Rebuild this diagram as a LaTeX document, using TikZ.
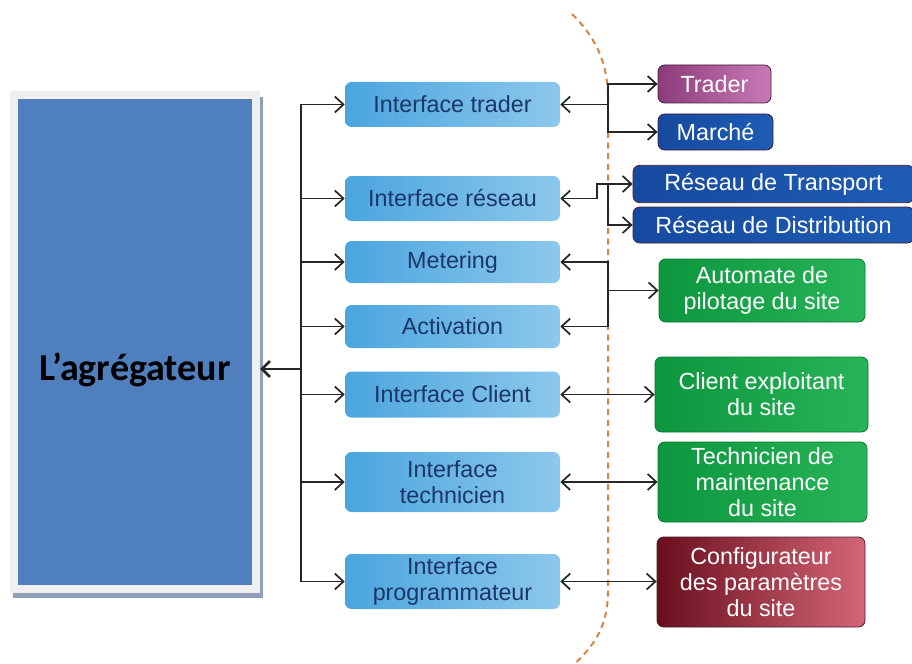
\documentclass[tikz,border=0pt]{standalone}
\usepackage{fontspec}
\setmainfont{Liberation Sans}
\newfontfamily\aggfont{Carlito}
\usetikzlibrary{arrows.meta}
\definecolor{aggblue}{RGB}{79,127,189}
\definecolor{aggframe}{RGB}{239,239,239}
\definecolor{aggshadow}{RGB}{143,159,182}
\definecolor{ibL}{RGB}{75,165,222}
\definecolor{ibR}{RGB}{140,200,236}
\definecolor{ibText}{RGB}{27,54,104}
\definecolor{trL}{RGB}{140,60,122}
\definecolor{trR}{RGB}{200,122,182}
\definecolor{navyL}{RGB}{22,74,160}
\definecolor{navyR}{RGB}{30,92,180}
\definecolor{grL}{RGB}{12,150,62}
\definecolor{grR}{RGB}{40,180,88}
\definecolor{cfL}{RGB}{105,14,30}
\definecolor{cfR}{RGB}{212,102,118}
\definecolor{arcor}{RGB}{215,132,70}
\definecolor{bdr}{RGB}{70,30,50}
\newcommand\bxfont{\fontsize{17.5}{19.5}\selectfont}
\begin{document}
\begin{tikzpicture}[x=0.75pt,y=-0.75pt,
  conn/.style={line width=1.3pt, draw=black!85},
  >={Straight Barb[length=6.5pt,width=12pt,line width=1.3pt]},
  ibox/.style={rounded corners=5pt, left color=ibL, right color=ibR, text=ibText,
    font=\bxfont, align=center, minimum width=161.25pt, inner sep=0pt},
  obox/.style={rounded corners=5pt, draw=bdr, line width=0.6pt, text=white,
    font=\bxfont, align=center, inner sep=0pt},
  trbox/.style={obox, left color=trL, right color=trR},
  nvbox/.style={obox, left color=navyL, right color=navyR},
  grbox/.style={obox, left color=grL, right color=grR, draw=grL!80!black},
  cfbox/.style={obox, left color=cfL, right color=cfR},
  arcline/.style={draw=arcor, line width=1.5pt, dash pattern=on 4.5pt off 3.5pt}
]
\useasboundingbox (0,0) rectangle (912,663);

% dashed boundary
\draw[arcline] (572,14) .. controls (598,40) and (608,65) .. (608,100) -- (608,590)
  .. controls (608,625) and (596,645) .. (570,668);

% aggregator
\fill[aggshadow] (13,97) rectangle (263,598);
\node[fill=aggblue, draw=aggframe, line width=6pt, minimum width=181.5pt,
  minimum height=370.5pt, inner sep=0pt] (agg) at (135,342) {};
\node[font=\aggfont\bfseries\fontsize{28.5}{34}\selectfont, text=black] (aggl) at (135,370) {L’agrégateur};

% interface boxes
\node[ibox, minimum height=33.75pt] (itr) at (452.5,104.5) {Interface trader};
\node[ibox, minimum height=33.75pt] (ire) at (452.5,198.5) {Interface réseau};
\node[ibox, minimum height=31.5pt] (ime) at (452.5,262) {Metering};
\node[ibox, minimum height=32.25pt] (iac) at (452.5,326.5) {Activation};
\node[ibox, minimum height=34.5pt] (icl) at (452.5,394.5) {Interface Client};
\node[ibox, minimum height=45pt] (ite) at (452.5,482) {Interface\\technicien};
\node[ibox, minimum height=41.25pt] (ipr) at (452.5,581.5) {Interface\\programmateur};

% outer actors
\node[trbox, minimum width=84.75pt, minimum height=28.5pt] (otr) at (714.5,84) {Trader};
\node[nvbox, minimum width=86.25pt, minimum height=27pt] (oma) at (715.5,132) {Marché};
\node[nvbox, minimum width=210.75pt, minimum height=28pt] (ort) at (773.5,184) {Réseau de Transport};
\node[nvbox, minimum width=210.75pt, minimum height=27pt] (ord) at (773.5,225) {Réseau de Distribution};
\node[grbox, minimum width=154.5pt, minimum height=47.25pt] (oau) at (762,290.5) {Automate de\\pilotage du site};
\node[grbox, minimum width=159.75pt, minimum height=56.25pt] (ocl) at (761.5,394.5) {Client exploitant\\du site};
\node[grbox, minimum width=156.75pt, minimum height=60pt] (ote) at (762.5,482) {Technicien de\\maintenance\\du site};
\node[cfbox, minimum width=156pt, minimum height=67.5pt] (ocf) at (761,582) {Configurateur\\des paramètres\\du site};

% left bus
\coordinate (bt) at (301,104.5);
\coordinate (bb) at (301,581.5);
\coordinate (ba) at (301,369);
\draw[conn] (bt) -- (bb);
\draw[conn,->] (bt |- itr.west) -- (itr.west);
\draw[conn,->] (bt |- ire.west) -- (ire.west);
\draw[conn,->] (bt |- ime.west) -- (ime.west);
\draw[conn,->] (bt |- iac.west) -- (iac.west);
\draw[conn,->] (bt |- icl.west) -- (icl.west);
\draw[conn,->] (bt |- ite.west) -- (ite.west);
\draw[conn,->] (bt |- ipr.west) -- (ipr.west);
\draw[conn,line width=2pt,->,>={Straight Barb[length=6pt,width=12pt,line width=2pt]}] (ba) -- (ba -| agg.east);

% right connectors
\coordinate (j1) at (608,104.5);
\draw[conn,->] (j1) -- (itr.east);
\draw[conn,->] (j1) |- (otr.west);
\draw[conn,->] (j1) |- (oma.west);

\coordinate (j2) at (597,198.5);
\coordinate (j3) at (608,184);
\draw[conn,->] (j2) -- (ire.east);
\draw[conn,->] (j2) |- (ort.west);
\draw[conn,->] (j3) |- (ord.west);

\coordinate (j4) at (608,290.5);
\draw[conn,->] (j4) -- (oau.west);
\draw[conn,->] (j4) |- (ime.east);
\draw[conn,->] (j4) |- (iac.east);

\draw[conn,<->] (icl.east) -- (icl.east -| ocl.west);
\draw[conn,<->] (ite.east) -- (ite.east -| ote.west);
\draw[conn,<->] (ipr.east) -- (ipr.east -| ocf.west);
\end{tikzpicture}
\end{document}
